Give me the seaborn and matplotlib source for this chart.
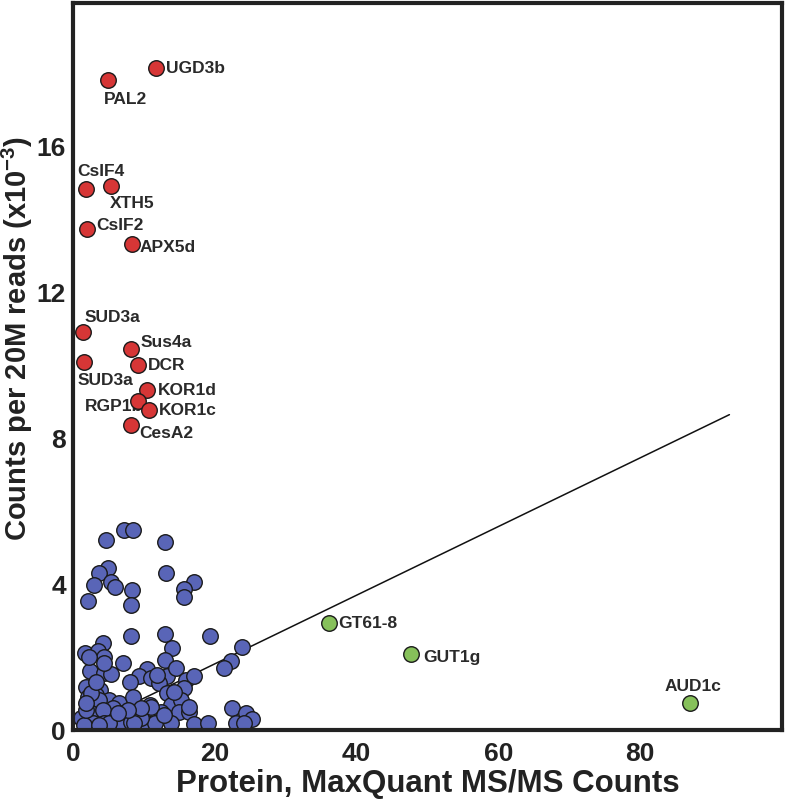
import numpy as np
import pandas as pd
import matplotlib
matplotlib.use("Agg")
import matplotlib.pyplot as plt
import seaborn as sns

# ---------------- data ----------------
red_names = ["UGD3b", "PAL2", "CsIF4", "XTH5", "CsIF2", "APX5d", "SUD3a", "SUD3a",
             "Sus4a", "DCR", "KOR1d", "RGP1b", "KOR1c", "CesA2"]
red_x = [11.7, 4.9, 1.9, 5.4, 2.0, 8.3, 1.45, 1.6, 8.2, 9.1, 10.4, 9.1, 10.7, 8.2]
red_y = [18.13, 17.8, 14.8, 14.9, 13.72, 13.3, 10.91, 10.09, 10.43, 10.0, 9.32, 9.0, 8.77, 8.34]

green_names = ["GT61-8", "GUT1g", "AUD1c"]
green_x = [36.1, 47.7, 87.0]
green_y = [2.94, 2.07, 0.75]

blue_x = [7.2, 8.5, 4.6, 13.0, 4.9, 3.6, 13.1, 2.9, 5.3, 5.9, 8.3, 17.0, 15.7, 15.7,
          2.1, 8.2, 8.2, 13.0, 19.3, 4.3, 1.7, 3.5, 4.4, 14.0, 23.8, 7.1, 13.0, 22.3,
          21.3, 2.4, 4.4, 5.4, 10.4, 9.3, 11.0, 13.3, 14.5, 15.9, 17.1, 8.1, 12.2, 1.8,
          3.8, 13.3, 15.7, 2.1, 3.2, 5.1, 6.5, 8.4, 10.9, 13.8, 15.2, 3.7, 5.6, 1.1,
          2.5, 4.2, 7.0, 9.3, 12.4, 15.0, 16.4, 22.4, 24.4, 25.3, 2.8, 4.4, 5.8, 6.8,
          8.2, 10.5, 11.5, 13.8, 17.1, 19.0, 23.0, 24.1, 1.6, 9.6, 8.6, 5.1, 3.7, 2.5,
          4.4, 2.3, 14.3, 11.0, 12.9, 9.6, 7.7, 6.3, 1.8, 11.9, 1.8, 3.2, 16.4]
blue_y = [5.48, 5.48, 5.19, 5.16, 4.43, 4.31, 4.31, 3.97, 4.06, 3.91, 3.84, 4.06, 3.85, 3.64,
          3.52, 3.42, 2.58, 2.62, 2.58, 2.39, 2.10, 2.15, 2.01, 2.24, 2.28, 1.84, 1.92, 1.90,
          1.69, 1.62, 1.55, 1.53, 1.66, 1.48, 1.42, 1.49, 1.69, 1.37, 1.49, 1.30, 1.28, 1.19,
          1.10, 1.02, 1.14, 0.91, 0.96, 0.82, 0.73, 0.91, 0.68, 0.68, 0.82, 0.82, 0.59, 0.32,
          0.46, 0.55, 0.47, 0.46, 0.50, 0.50, 0.50, 0.61, 0.47, 0.29, 0.18, 0.18, 0.25, 0.20,
          0.23, 0.18, 0.18, 0.18, 0.16, 0.18, 0.18, 0.18, 0.14, 0.32, 0.18, 0.18, 0.14, 1.01,
          1.84, 2.01, 1.05, 0.64, 0.41, 0.59, 0.55, 0.46, 0.55, 1.51, 0.73, 1.32, 0.64]

fit_slope = 0.094
fit_intercept = -0.07
fit_x_range = [1.0, 92.6]

xtick_values = [0, 20, 40, 60, 80]
xtick_labels = ["0", "20", "40", "60", "80"]
ytick_values = [0, 2, 4, 6, 8, 10, 12, 14, 16, 18]
ytick_labels = ["0", "", "4", "", "8", "", "12", "", "16", ""]

x_label = "Protein, MaxQuant MS/MS Counts"
y_label = r"Counts per 20M reads (x10$^{\mathbf{-3}}$)"

# ---------------- style ----------------
sns.set_style("white")
plt.rcParams["font.family"] = ["Liberation Sans", "DejaVu Sans"]
plt.rcParams["mathtext.fontset"] = "custom"
plt.rcParams["mathtext.rm"] = "Liberation Sans:bold"
plt.rcParams["mathtext.bf"] = "Liberation Sans:bold"

BLUE = "#5965B7"
RED = "#D63636"
GREEN = "#86C05A"
EDGE = "#1a1a1a"
SPINE = "#222222"

fig = plt.figure(figsize=(7.85, 8.03), dpi=100)
ax = fig.add_axes([0.093, 0.0897, 0.903, 0.905])

# regression line
fx = np.array(fit_x_range)
fit_df = pd.DataFrame({"x": fx, "y": fit_slope * fx + fit_intercept})
sns.lineplot(data=fit_df, x="x", y="y", ax=ax, color="#111111", linewidth=1.1, zorder=1)

blue_df = pd.DataFrame({"x": blue_x, "y": blue_y})
red_df = pd.DataFrame({"x": red_x, "y": red_y, "name": red_names})
green_df = pd.DataFrame({"x": green_x, "y": green_y, "name": green_names})

msize = 125
sns.scatterplot(data=blue_df, x="x", y="y", ax=ax, color=BLUE, s=msize,
                edgecolor=EDGE, linewidth=1.0, zorder=2, legend=False)
sns.scatterplot(data=red_df, x="x", y="y", ax=ax, color=RED, s=msize,
                edgecolor=EDGE, linewidth=1.0, zorder=4, legend=False)
sns.scatterplot(data=green_df, x="x", y="y", ax=ax, color=GREEN, s=msize,
                edgecolor=EDGE, linewidth=1.0, zorder=4, legend=False)

# label offsets (pixels) and alignment
red_offsets = [(10, 0, "left"), (-4, -19, "left"), (-9, 19, "left"), (-1, -17, "left"),
               (9, 4, "left"), (8, -2, "left"), (1, 15, "left"), (-7, -18, "left"),
               (9, 8, "left"), (10, 0, "left"), (11, 0, "left"), (6, -4, "right"),
               (10, 0, "left"), (8, -7, "left")]
green_offsets = [(9, 0, "left"), (12, -2, "left"), (3, 17, "center")]

lab_font = dict(fontsize=12.5, fontweight="bold", color="#2a2a2a")
for (n, x, y), (dx, dy, ha) in zip(zip(red_names, red_x, red_y), red_offsets):
    ax.annotate(n, (x, y), xytext=(dx, dy), textcoords="offset pixels",
                ha=ha, va="center", zorder=3, **lab_font)
for (n, x, y), (dx, dy, ha) in zip(zip(green_names, green_x, green_y), green_offsets):
    ax.annotate(n, (x, y), xytext=(dx, dy), textcoords="offset pixels",
                ha=ha, va="center", zorder=3, **lab_font)

ax.set_xlim(0, 100)
ax.set_ylim(0, 19.9)
ax.set_xticks(xtick_values)
ax.set_xticklabels(xtick_labels)
ax.set_yticks(ytick_values)
ax.set_yticklabels(ytick_labels)

for side in ["left", "right", "top", "bottom"]:
    ax.spines[side].set_visible(True)
    ax.spines[side].set_linewidth(3.0)
    ax.spines[side].set_color(SPINE)

ax.tick_params(axis="both", direction="in", length=10, width=2.2, color=SPINE,
               labelsize=19, pad=8, labelcolor="#222222")
ax.tick_params(axis="y", pad=5)
ax.tick_params(axis="both", right=False, top=False)
for t in ax.get_xticklabels() + ax.get_yticklabels():
    t.set_fontweight("bold")

ax.set_xlabel(x_label, fontsize=22.5, fontweight="bold", color="#222222", labelpad=2)
ax.set_ylabel(y_label, fontsize=21, fontweight="bold", color="#222222")
ax.yaxis.set_label_coords(-0.053, 0.54)
ax.grid(False)

fig.savefig("out.png", dpi=100)
